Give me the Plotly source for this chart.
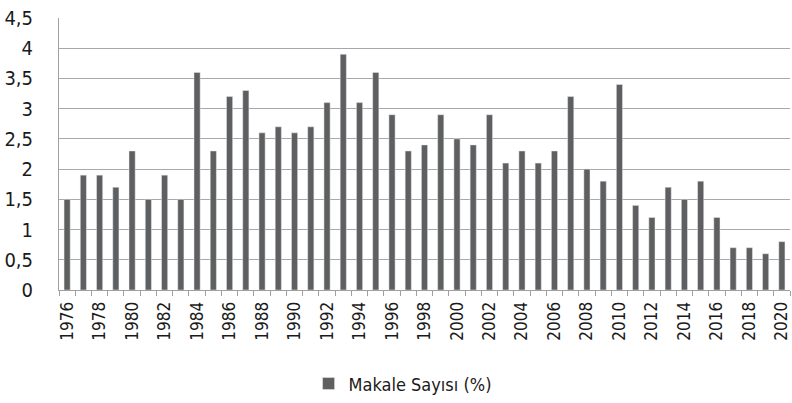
import plotly.graph_objects as go

years = list(range(1976, 2021))
values = [1.5, 1.9, 1.9, 1.7, 2.3, 1.5, 1.9, 1.5, 3.6, 2.3,
          3.2, 3.3, 2.6, 2.7, 2.6, 2.7, 3.1, 3.9, 3.1, 3.6,
          2.9, 2.3, 2.4, 2.9, 2.5, 2.4, 2.9, 2.1, 2.3, 2.1,
          2.3, 3.2, 2.0, 1.8, 3.4, 1.4, 1.2, 1.7, 1.5, 1.8,
          1.2, 0.7, 0.7, 0.6, 0.8]
label_years = years[::2]
y_ticks = [0, 0.5, 1, 1.5, 2, 2.5, 3, 3.5, 4, 4.5]

fig = go.Figure(go.Bar(x=years, y=values, name="Makale Sayısı (%)",
                       marker_color="#5f5f5f", width=0.38))

fig.update_layout(
    width=792, height=403,
    margin=dict(l=59, r=2, t=18, b=113, autoexpand=False),
    paper_bgcolor="white", plot_bgcolor="white",
    separators=",.",
    font=dict(family="DejaVu Sans Condensed, Liberation Sans Narrow, Open Sans, sans-serif", color="#1a1a1a"),
    showlegend=True,
    legend=dict(orientation="h", x=0.47, xanchor="center", y=-0.345, yanchor="middle",
                font=dict(size=18)),
)
fig.update_xaxes(
    range=[1975.5, 2020.5], automargin=False, ticklabeloverflow="allow",
    tickvals=label_years, ticktext=[str(y) for y in label_years],
    tickangle=-90, tickfont=dict(size=17), ticklabelstandoff=4,
    ticks="", showgrid=False,
    showline=True, linecolor="#a0a0a0", linewidth=1,
    minor=dict(tick0=0.5, dtick=1, ticks="outside", ticklen=5, tickcolor="#a0a0a0", showgrid=False),
)
fig.update_yaxes(
    range=[0, 4.5], tickvals=y_ticks, automargin=False, ticklabeloverflow="allow",
    tickfont=dict(size=20), ticklabelstandoff=21,
    showgrid=True, gridcolor="#a8a8a8", gridwidth=1,
    showline=True, linecolor="#a0a0a0", linewidth=1,
    zeroline=False, ticks="",
)
fig.write_html("out.html", config={"displayModeBar": False},
               post_script="document.body.style.margin='0';")
